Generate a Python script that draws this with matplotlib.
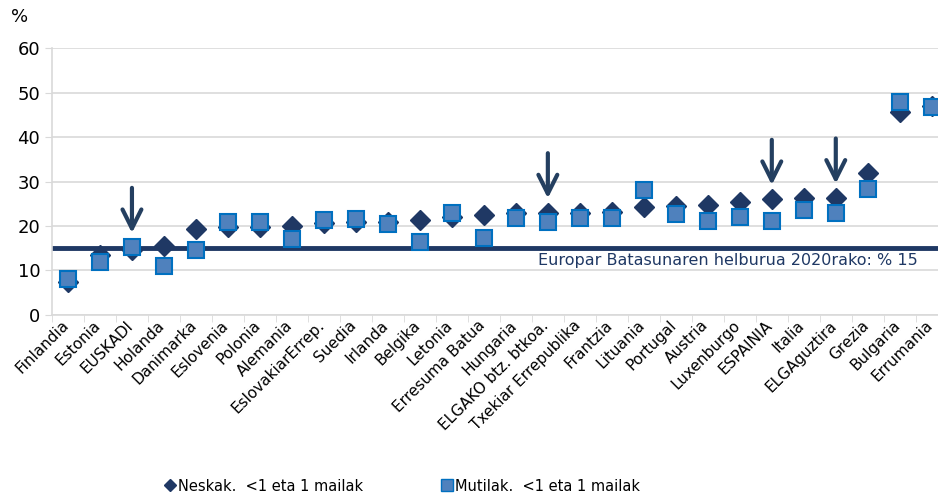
import matplotlib.pyplot as plt
import matplotlib.transforms as mtransforms
from matplotlib.lines import Line2D

countries = [
    'Finlandia', 'Estonia', 'EUSKADI', 'Holanda', 'Danimarka', 'Eslovenia', 'Polonia',
    'Alemania', 'EslovakiarErrep.', 'Suedia', 'Irlanda', 'Belgika', 'Letonia',
    'Erresuma Batua', 'Hungaria', 'ELGAKO btz. btkoa.', 'Txekiar Errepublika', 'Frantzia',
    'Lituania', 'Portugal', 'Austria', 'Luxenburgo', 'ESPAINIA', 'Italia', 'ELGAguztira',
    'Grezia', 'Bulgaria', 'Errumania',
]
neskak = [7.3, 13.5, 14.5, 15.5, 19.3, 19.8, 19.8, 20.0, 20.7, 21.0, 21.0, 21.3, 22.0,
          22.5, 23.0, 23.0, 23.0, 23.2, 24.2, 24.6, 24.8, 25.5, 26.0, 26.3, 26.3,
          32.0, 45.6, 46.9]
mutilak = [8.0, 11.8, 15.2, 11.0, 14.5, 20.8, 21.0, 17.0, 21.3, 21.5, 20.5, 16.5, 23.0,
           17.3, 21.8, 21.0, 21.7, 21.8, 28.0, 22.6, 21.1, 22.0, 21.2, 23.5, 22.9,
           28.3, 47.9, 46.8]
target = 15
arrow_at = ['EUSKADI', 'ELGAKO btz. btkoa.', 'ESPAINIA', 'ELGAguztira']

navy = '#1F3864'
blue_fill = '#4F81BD'
blue_edge = '#0070C0'

fig = plt.figure(figsize=(9.38, 4.96), dpi=100)
ax = fig.add_axes([0.0554, 0.365, 0.955, 0.538])

x = list(range(len(countries)))
ax.plot(x, neskak, 'D', color=navy, markersize=10.5, zorder=3)
ax.plot(x, mutilak, 's', markerfacecolor=blue_fill, markeredgecolor=blue_edge,
        markeredgewidth=1.5, markersize=11.5, zorder=4)

ax.axhline(target, color=navy, linewidth=3.5, zorder=2)
ax.text(len(countries) - 1.45, target - 1.0,
        'Europar Batasunaren helburua 2020rako: % 15',
        ha='right', va='top', fontsize=11.5, color=navy)

for name in arrow_at:
    i = countries.index(name)
    top = max(neskak[i], mutilak[i])
    ax.annotate('', xy=(i, top + 2.6), xytext=(i, top + 14),
                arrowprops=dict(arrowstyle='->', color='#243F60', lw=3,
                                mutation_scale=34), zorder=5)

ax.set_xlim(-0.5, len(countries) - 0.5)
ax.set_ylim(0, 60)
ax.set_yticks(range(0, 61, 10))
ax.tick_params(axis='y', labelsize=13, length=5, color='#D9D9D9')
ax.yaxis.grid(True, color='#D9D9D9', linewidth=1.2)
ax.set_axisbelow(True)

ax.set_xticks(x)
ax.set_xticklabels(countries, rotation=45, ha='right', rotation_mode='anchor', fontsize=11)
ax.tick_params(axis='x', length=0, pad=2)
ax.set_xticks([i - 0.5 for i in range(len(countries) + 1)], minor=True)
ax.tick_params(axis='x', which='minor', length=5, color='#D9D9D9')

# nudge the rotated labels a bit left, as in the original
shift = mtransforms.ScaledTranslation(-5 / 72, 0, fig.dpi_scale_trans)
for label in ax.get_xticklabels():
    label.set_transform(label.get_transform() + shift)

for side in ['top', 'right']:
    ax.spines[side].set_visible(False)
ax.spines['left'].set_color('#D9D9D9')
ax.spines['bottom'].set_color('#D9D9D9')
ax.spines['left'].set_linewidth(1.2)
ax.spines['bottom'].set_linewidth(1.2)

fig.text(0.012, 0.955, '%', fontsize=13)

handles = [
    Line2D([], [], linestyle='none', marker='D', color=navy, markersize=6.5),
    Line2D([], [], linestyle='none', marker='s', markerfacecolor=blue_fill,
           markeredgecolor=blue_edge, markersize=9),
]
fig.legend(handles, ['Neskak.  <1 eta 1 mailak', 'Mutilak.  <1 eta 1 mailak'],
           loc='center', bbox_to_anchor=(0.428, 0.02), ncol=2, frameon=False,
           fontsize=10.5, handletextpad=0.1, columnspacing=5.2, handlelength=1.0)

fig.savefig('out.png', dpi=100)
